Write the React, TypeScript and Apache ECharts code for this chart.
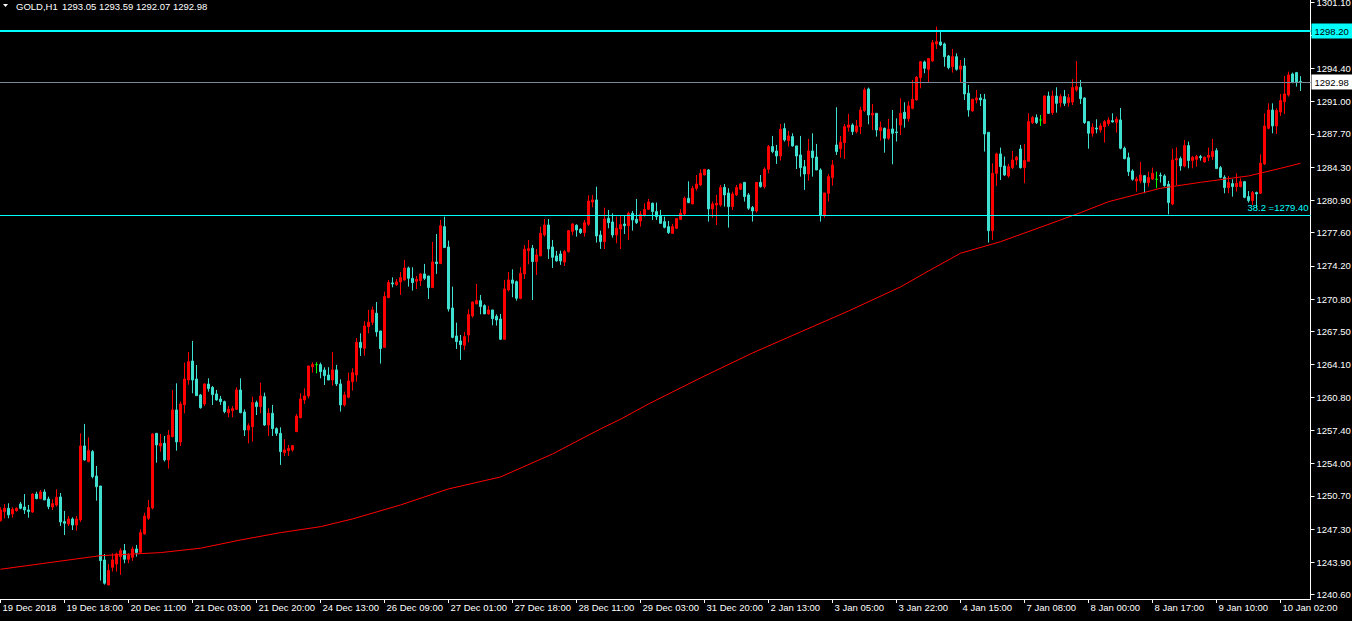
import React, { useEffect, useRef } from "react";
import * as echarts from "echarts";

const FONT = '"Liberation Sans", Arial, sans-serif';

const opens = [
  1248.17, 1249.09, 1249.43, 1248.85, 1249.19, 1249.87, 1249.56, 1249.26, 1249.05, 1250.89,
  1250.42, 1251.10, 1250.38, 1249.56, 1249.77, 1250.59, 1248.07, 1247.83, 1248.34, 1247.72,
  1248.24, 1255.80, 1254.20, 1255.22, 1252.73, 1251.71, 1244.15, 1241.59, 1243.40, 1243.74,
  1244.49, 1245.10, 1244.22, 1244.42, 1245.27, 1244.93, 1246.81, 1248.41, 1249.46, 1257.09,
  1255.80, 1256.07, 1254.37, 1256.75, 1259.48, 1256.21, 1260.02, 1262.54, 1264.48, 1262.64,
  1261.01, 1260.09, 1262.13, 1261.79, 1261.11, 1260.60, 1260.33, 1259.20, 1259.41, 1259.54,
  1261.52, 1259.27, 1257.43, 1257.77, 1260.23, 1259.82, 1260.84, 1257.94, 1259.14, 1257.57,
  1257.09, 1255.12, 1255.32, 1255.39, 1257.26, 1258.69, 1260.50, 1260.91, 1263.90, 1264.11,
  1264.11, 1263.56, 1263.05, 1262.54, 1263.57, 1262.14, 1259.99, 1260.77, 1262.37, 1263.05,
  1266.39, 1265.78, 1267.99, 1268.44, 1269.36, 1267.55, 1265.88, 1270.96, 1272.46, 1272.29,
  1272.56, 1272.76, 1273.99, 1272.93, 1272.63, 1272.70, 1273.38, 1273.17, 1271.98, 1274.60,
  1274.43, 1278.21, 1276.13, 1269.90, 1267.04, 1266.53, 1266.09, 1267.14, 1269.08, 1270.31,
  1270.65, 1270.14, 1269.29, 1269.70, 1269.05, 1268.78, 1266.70, 1271.74, 1272.76, 1272.59,
  1270.89, 1273.38, 1275.76, 1276.00, 1274.64, 1275.22, 1277.36, 1278.38, 1276.13, 1275.22,
  1275.42, 1274.60, 1275.66, 1277.73, 1278.35, 1277.94, 1277.60, 1278.45, 1280.73, 1280.94,
  1277.36, 1276.68, 1279.06, 1278.69, 1277.36, 1277.97, 1278.48, 1278.31, 1279.57, 1278.96,
  1278.79, 1279.37, 1279.98, 1280.60, 1279.75, 1279.30, 1278.72, 1278.21, 1277.53, 1278.04,
  1278.96, 1279.51, 1281.11, 1280.53, 1282.13, 1282.47, 1283.49, 1284.00, 1280.02, 1280.43,
  1280.43, 1282.23, 1281.65, 1280.26, 1281.45, 1282.03, 1282.74, 1281.45, 1280.16, 1279.81,
  1282.74, 1282.30, 1284.07, 1286.39, 1285.94, 1285.43, 1288.23, 1287.00, 1287.41, 1286.46,
  1285.54, 1284.34, 1283.59, 1285.94, 1285.33, 1284.00, 1279.40, 1281.62, 1283.22, 1286.56,
  1286.18, 1286.80, 1288.36, 1288.60, 1287.92, 1288.43, 1290.07, 1292.28, 1289.62, 1289.79,
  1288.02, 1288.26, 1287.24, 1288.19, 1287.89, 1288.60, 1289.90, 1289.25, 1290.30, 1291.16,
  1293.44, 1295.04, 1294.29, 1295.14, 1296.88, 1297.08, 1296.88, 1295.65, 1294.56, 1295.58,
  1294.29, 1294.63, 1291.84, 1290.03, 1291.16, 1291.36, 1291.22, 1287.85, 1277.80, 1283.66,
  1285.64, 1284.41, 1283.39, 1284.24, 1285.02, 1286.15, 1284.24, 1284.89, 1288.84, 1289.35,
  1289.11, 1288.77, 1291.56, 1289.86, 1291.56, 1290.88, 1291.50, 1290.88, 1290.95, 1292.18,
  1292.45, 1291.36, 1288.94, 1287.75, 1288.29, 1288.09, 1288.43, 1288.74, 1289.04, 1288.87,
  1289.11, 1286.22, 1285.26, 1283.90, 1282.88, 1282.88, 1283.42, 1282.71, 1283.08, 1283.05,
  1283.46, 1283.39, 1282.54, 1280.53, 1285.02, 1285.16, 1284.41, 1286.49, 1284.96, 1285.09,
  1285.37, 1284.82, 1285.30, 1285.37, 1285.98, 1284.24, 1283.25, 1282.20, 1282.61, 1282.30,
  1282.30, 1282.81, 1281.28, 1280.87, 1281.69, 1281.62, 1284.62, 1288.26, 1290.13, 1288.50,
  1289.93, 1290.98, 1291.67, 1293.81, 1293.95, 1293.05,
];

const highs = [
  1249.53, 1249.87, 1249.94, 1249.53, 1249.53, 1250.08, 1250.89, 1249.77, 1250.96, 1251.13,
  1251.30, 1251.37, 1250.62, 1250.35, 1251.37, 1250.99, 1249.16, 1248.64, 1248.51, 1248.64,
  1257.09, 1258.05, 1256.68, 1255.39, 1253.75, 1251.71, 1244.76, 1243.74, 1244.83, 1244.90,
  1245.34, 1245.78, 1244.83, 1245.51, 1245.68, 1247.28, 1248.98, 1250.28, 1257.09, 1257.09,
  1257.02, 1256.82, 1257.43, 1261.52, 1262.20, 1260.33, 1264.31, 1265.40, 1266.53, 1264.07,
  1261.11, 1262.20, 1262.71, 1261.93, 1261.52, 1260.91, 1260.43, 1259.88, 1259.88, 1261.79,
  1262.71, 1259.54, 1258.11, 1260.84, 1260.43, 1262.27, 1261.25, 1259.65, 1259.99, 1257.70,
  1257.70, 1256.48, 1255.90, 1255.90, 1259.07, 1261.18, 1261.69, 1263.97, 1264.35, 1264.35,
  1264.31, 1263.84, 1263.84, 1265.41, 1264.08, 1262.61, 1261.35, 1263.29, 1263.74, 1266.84,
  1267.31, 1268.54, 1269.70, 1270.04, 1270.51, 1267.55, 1271.57, 1272.76, 1273.03, 1272.86,
  1273.58, 1274.81, 1274.13, 1274.06, 1273.17, 1273.44, 1274.40, 1273.17, 1276.64, 1277.46,
  1278.89, 1279.23, 1276.78, 1272.08, 1268.40, 1267.14, 1267.45, 1269.77, 1270.55, 1272.35,
  1271.23, 1270.28, 1270.11, 1269.70, 1269.25, 1269.29, 1272.76, 1273.58, 1273.85, 1272.70,
  1274.06, 1276.34, 1276.85, 1276.34, 1275.93, 1278.21, 1278.99, 1278.99, 1276.85, 1275.73,
  1275.76, 1275.83, 1277.87, 1278.55, 1278.45, 1278.04, 1278.89, 1281.41, 1281.45, 1282.30,
  1277.80, 1280.15, 1279.91, 1279.57, 1279.23, 1279.34, 1279.34, 1279.74, 1279.81, 1281.04,
  1279.81, 1280.60, 1281.04, 1280.67, 1280.67, 1279.92, 1279.23, 1278.79, 1278.49, 1279.10,
  1279.98, 1281.28, 1282.84, 1282.37, 1283.49, 1284.07, 1284.07, 1284.10, 1280.77, 1281.45,
  1282.47, 1282.57, 1282.13, 1281.79, 1282.47, 1282.64, 1282.74, 1281.65, 1280.32, 1282.74,
  1283.49, 1284.27, 1286.56, 1287.48, 1286.56, 1288.70, 1288.77, 1287.99, 1287.75, 1286.46,
  1287.48, 1285.02, 1287.17, 1287.75, 1286.66, 1284.17, 1281.65, 1283.59, 1285.02, 1290.41,
  1287.48, 1288.70, 1289.73, 1288.77, 1289.11, 1290.47, 1292.42, 1292.42, 1290.75, 1289.79,
  1288.94, 1288.33, 1289.21, 1290.13, 1289.28, 1291.33, 1290.92, 1291.02, 1293.20, 1293.61,
  1295.14, 1295.17, 1295.45, 1297.29, 1298.65, 1298.14, 1297.01, 1295.75, 1296.37, 1295.92,
  1295.24, 1295.45, 1292.69, 1291.29, 1292.18, 1291.77, 1291.77, 1287.85, 1284.68, 1285.77,
  1286.29, 1285.37, 1284.62, 1285.94, 1285.43, 1286.56, 1286.66, 1289.79, 1289.52, 1289.69,
  1289.62, 1291.63, 1292.01, 1292.11, 1292.45, 1291.77, 1292.18, 1291.77, 1293.27, 1295.14,
  1293.20, 1291.43, 1288.94, 1288.77, 1289.18, 1288.77, 1289.11, 1289.38, 1289.79, 1289.45,
  1290.34, 1286.39, 1285.77, 1284.07, 1283.32, 1284.82, 1283.49, 1283.83, 1284.24, 1283.83,
  1283.73, 1283.56, 1282.88, 1286.18, 1286.32, 1285.37, 1287.07, 1286.90, 1285.43, 1285.54,
  1285.54, 1285.37, 1286.29, 1287.17, 1286.22, 1284.41, 1283.46, 1283.39, 1283.05, 1283.66,
  1283.15, 1282.88, 1281.85, 1281.85, 1281.79, 1285.60, 1289.79, 1290.81, 1290.81, 1290.30,
  1291.77, 1293.61, 1294.05, 1293.95, 1294.02, 1293.59,
];

const lows = [
  1248.07, 1248.41, 1248.41, 1248.47, 1249.09, 1249.33, 1248.85, 1248.47, 1248.98, 1250.35,
  1250.35, 1250.28, 1249.33, 1249.26, 1249.60, 1247.62, 1246.70, 1247.62, 1247.21, 1247.15,
  1248.03, 1254.30, 1254.13, 1252.49, 1250.21, 1242.04, 1241.63, 1241.59, 1242.96, 1242.96,
  1242.62, 1243.81, 1243.81, 1244.05, 1244.49, 1244.90, 1246.74, 1248.24, 1249.33, 1254.09,
  1255.22, 1254.20, 1253.48, 1256.68, 1255.32, 1255.80, 1259.14, 1262.06, 1261.18, 1260.91,
  1259.61, 1259.88, 1261.35, 1259.99, 1260.43, 1259.99, 1259.14, 1258.73, 1258.73, 1259.48,
  1259.14, 1256.82, 1256.07, 1256.24, 1258.96, 1259.14, 1257.84, 1256.82, 1256.82, 1256.82,
  1253.86, 1254.78, 1254.78, 1255.22, 1257.23, 1258.62, 1260.09, 1260.67, 1263.29, 1263.22,
  1262.71, 1262.03, 1262.54, 1261.97, 1261.93, 1259.31, 1259.82, 1260.67, 1261.45, 1262.37,
  1265.00, 1265.03, 1267.31, 1268.16, 1266.97, 1264.21, 1265.88, 1270.89, 1272.01, 1272.15,
  1271.23, 1272.70, 1272.08, 1271.67, 1271.84, 1272.15, 1272.76, 1270.82, 1271.98, 1273.38,
  1274.43, 1276.07, 1269.53, 1266.80, 1265.71, 1264.59, 1265.61, 1266.39, 1268.91, 1270.31,
  1269.25, 1269.29, 1269.22, 1268.13, 1268.10, 1266.63, 1266.70, 1271.57, 1270.99, 1270.65,
  1270.79, 1272.86, 1274.36, 1270.72, 1273.27, 1275.22, 1277.19, 1274.91, 1273.99, 1274.64,
  1274.30, 1274.19, 1275.55, 1277.33, 1277.19, 1277.46, 1277.19, 1278.28, 1280.19, 1276.58,
  1275.93, 1275.93, 1278.04, 1277.09, 1276.51, 1275.93, 1277.46, 1276.85, 1277.80, 1278.48,
  1278.21, 1279.23, 1279.91, 1278.89, 1278.89, 1278.49, 1278.04, 1277.46, 1277.46, 1277.97,
  1278.89, 1279.40, 1280.60, 1280.53, 1281.89, 1282.37, 1283.46, 1278.72, 1279.13, 1278.38,
  1280.26, 1280.26, 1278.11, 1279.92, 1281.35, 1281.96, 1280.77, 1279.92, 1278.72, 1279.64,
  1282.20, 1282.10, 1283.66, 1285.71, 1284.62, 1284.96, 1286.90, 1286.39, 1286.39, 1284.10,
  1283.32, 1281.96, 1282.91, 1283.32, 1284.00, 1278.72, 1279.13, 1280.77, 1282.40, 1285.54,
  1285.26, 1285.13, 1287.92, 1287.58, 1287.75, 1287.68, 1289.93, 1288.67, 1288.09, 1287.41,
  1287.00, 1285.77, 1287.07, 1284.58, 1286.90, 1287.58, 1288.33, 1288.94, 1290.20, 1291.09,
  1292.35, 1293.88, 1292.93, 1295.07, 1296.37, 1296.67, 1294.56, 1294.29, 1293.95, 1294.15,
  1292.99, 1291.16, 1289.45, 1289.96, 1290.81, 1290.54, 1285.88, 1276.58, 1276.85, 1282.37,
  1282.98, 1283.39, 1283.22, 1284.10, 1284.51, 1284.14, 1282.64, 1284.82, 1288.70, 1288.70,
  1288.50, 1288.70, 1289.73, 1289.62, 1289.86, 1290.41, 1290.54, 1290.47, 1290.64, 1292.01,
  1290.75, 1288.70, 1286.18, 1287.41, 1287.75, 1287.82, 1286.80, 1288.50, 1288.84, 1287.82,
  1286.11, 1285.09, 1283.39, 1282.91, 1281.79, 1282.64, 1281.62, 1282.30, 1282.98, 1282.13,
  1282.71, 1282.30, 1279.47, 1280.39, 1282.47, 1283.93, 1284.27, 1284.17, 1284.17, 1284.34,
  1284.96, 1284.75, 1284.92, 1285.02, 1284.14, 1283.15, 1281.62, 1281.62, 1281.28, 1281.79,
  1282.23, 1281.11, 1280.67, 1280.43, 1280.09, 1281.55, 1284.51, 1288.16, 1287.75, 1287.68,
  1289.52, 1289.73, 1291.50, 1292.86, 1292.52, 1292.07,
];

const closes = [
  1249.26, 1249.43, 1248.75, 1249.33, 1249.43, 1249.43, 1249.26, 1249.09, 1250.89, 1250.42,
  1251.10, 1250.28, 1249.60, 1249.90, 1250.55, 1248.03, 1247.90, 1248.34, 1247.72, 1248.34,
  1255.80, 1254.37, 1255.32, 1252.66, 1251.64, 1244.08, 1241.77, 1243.06, 1244.15, 1244.76,
  1245.10, 1244.22, 1244.63, 1245.27, 1244.90, 1246.94, 1248.64, 1249.50, 1257.02, 1255.90,
  1256.07, 1254.37, 1256.89, 1259.48, 1256.21, 1260.09, 1262.64, 1264.41, 1262.54, 1260.94,
  1259.71, 1262.13, 1261.66, 1261.04, 1260.50, 1260.33, 1259.31, 1259.54, 1259.61, 1261.52,
  1259.20, 1257.43, 1257.87, 1260.23, 1259.82, 1260.91, 1257.94, 1259.14, 1257.57, 1257.09,
  1255.22, 1255.39, 1255.56, 1255.83, 1258.86, 1260.60, 1260.91, 1263.97, 1264.11, 1264.11,
  1263.39, 1262.98, 1262.54, 1263.57, 1262.14, 1259.99, 1261.01, 1262.44, 1263.29, 1266.39,
  1265.85, 1268.06, 1268.44, 1269.70, 1267.45, 1265.75, 1271.06, 1272.49, 1272.35, 1272.56,
  1273.00, 1273.99, 1272.93, 1272.49, 1272.83, 1273.38, 1272.93, 1271.98, 1274.60, 1274.43,
  1278.31, 1276.07, 1269.80, 1266.90, 1266.46, 1266.15, 1266.97, 1269.22, 1270.51, 1270.65,
  1270.04, 1269.29, 1269.70, 1268.81, 1268.67, 1266.70, 1271.84, 1272.76, 1272.42, 1270.89,
  1273.44, 1275.90, 1275.96, 1274.64, 1275.32, 1277.53, 1278.38, 1275.93, 1275.08, 1274.70,
  1274.70, 1275.66, 1277.80, 1278.48, 1277.87, 1277.60, 1278.62, 1280.83, 1280.94, 1277.26,
  1276.68, 1278.99, 1278.62, 1277.36, 1278.04, 1278.42, 1278.31, 1279.57, 1278.89, 1278.62,
  1279.47, 1279.98, 1280.73, 1279.75, 1279.23, 1278.55, 1278.14, 1277.60, 1278.21, 1279.03,
  1279.58, 1281.11, 1280.67, 1282.13, 1282.57, 1283.66, 1284.07, 1280.02, 1280.53, 1280.60,
  1282.20, 1281.45, 1280.26, 1281.55, 1282.20, 1282.57, 1281.28, 1280.09, 1279.81, 1282.74,
  1282.30, 1284.10, 1286.39, 1285.88, 1285.43, 1288.16, 1287.07, 1287.48, 1286.46, 1285.43,
  1284.24, 1283.59, 1285.94, 1285.26, 1284.00, 1279.40, 1281.65, 1283.32, 1284.51, 1285.88,
  1286.83, 1288.43, 1288.60, 1287.92, 1288.50, 1290.13, 1292.18, 1289.62, 1289.79, 1288.09,
  1288.33, 1287.24, 1288.16, 1287.75, 1287.82, 1289.79, 1289.25, 1290.54, 1291.22, 1293.47,
  1295.07, 1294.39, 1295.38, 1297.01, 1297.12, 1296.78, 1295.58, 1294.46, 1295.58, 1294.29,
  1294.63, 1291.77, 1290.13, 1291.22, 1291.36, 1291.16, 1287.68, 1277.80, 1283.66, 1285.64,
  1284.34, 1283.49, 1284.34, 1285.02, 1285.30, 1284.24, 1284.96, 1288.94, 1289.35, 1288.84,
  1289.11, 1291.56, 1289.79, 1291.56, 1290.81, 1291.50, 1290.81, 1291.39, 1292.42, 1292.52,
  1291.29, 1288.84, 1287.75, 1288.36, 1288.19, 1288.50, 1288.94, 1289.11, 1288.91, 1289.18,
  1286.22, 1285.16, 1283.83, 1283.05, 1283.08, 1283.49, 1282.71, 1283.22, 1283.66, 1283.05,
  1283.39, 1282.40, 1280.67, 1285.02, 1285.16, 1284.41, 1286.49, 1284.96, 1285.30, 1285.37,
  1285.26, 1285.30, 1285.50, 1285.88, 1284.14, 1283.25, 1282.20, 1282.71, 1282.30, 1282.64,
  1282.81, 1281.21, 1280.87, 1281.69, 1281.55, 1284.68, 1288.50, 1290.13, 1288.50, 1290.07,
  1291.09, 1291.77, 1293.71, 1292.93, 1292.93, 1292.98,
];

// Moving average read at sampled bars (bar index -> value)
const maIndex = [0, 25, 40, 50, 60, 70, 80, 88, 100, 112, 125, 138, 150, 155, 162, 175, 188, 200, 212, 225, 232, 240, 250, 265, 270, 277, 290, 300, 312, 320, 325];
const maValues = [1243.2, 1244.59, 1244.9, 1245.35, 1246.19, 1246.94, 1247.55, 1248.34, 1249.77, 1251.41, 1252.63, 1254.98, 1257.54, 1258.53, 1260.09, 1262.75, 1265.3, 1267.45, 1269.59, 1272.05, 1273.68, 1275.49, 1276.67, 1278.89, 1279.64, 1280.76, 1282.13, 1282.74, 1283.39, 1284.17, 1284.68];

const xTickLabels = [
  "19 Dec 2018", "19 Dec 18:00", "20 Dec 11:00", "21 Dec 03:00", "21 Dec 20:00", "24 Dec 13:00",
  "26 Dec 09:00", "27 Dec 01:00", "27 Dec 18:00", "28 Dec 11:00", "29 Dec 03:00", "31 Dec 20:00",
  "2 Jan 13:00", "3 Jan 05:00", "3 Jan 22:00", "4 Jan 15:00", "7 Jan 08:00", "8 Jan 00:00",
  "8 Jan 17:00", "9 Jan 10:00", "10 Jan 02:00",
];
const BARS_PER_LABEL = 16;

const yTickValues = [1240.6, 1243.9, 1247.3, 1250.7, 1254.0, 1257.4, 1260.8, 1264.1, 1267.5, 1270.8, 1274.2, 1277.6, 1280.9, 1284.3, 1287.7, 1291.0, 1294.4, 1297.8, 1301.1];
const Y_MIN = 1240.16;
const Y_MAX = 1301.37;

const headerSymbol = "GOLD,H1";
const headerValues = [1293.05, 1293.59, 1292.07, 1292.98];

const levelResistance = 1298.2;
const levelBid = 1292.98;
const fibRatio = 38.2;
const levelFib = 1279.4;

const EXTRA_SLOTS = 2;

export default function App() {
  const ref = useRef<HTMLDivElement>(null);

  useEffect(() => {
    if (!ref.current) return;
    const chart = echarts.init(ref.current, null, { renderer: "svg" });
    const total = opens.length + EXTRA_SLOTS;
    const categories = Array.from({ length: total }, (_, i) => String(i));
    const candleData = opens.map((o, i) => [o, closes[i], lows[i], highs[i]]);
    const maData: (number | null)[] = new Array(total).fill(null);
    maIndex.forEach((idx, k) => {
      maData[idx] = maValues[k];
    });

    const option: any = {
      animation: false,
      backgroundColor: "#000000",
      textStyle: { fontFamily: FONT },
      grid: {
        left: -1.5,
        right: 41.5,
        top: 0,
        bottom: 22,
        containLabel: false,
        outerBoundsMode: "none",
      },
      xAxis: {
        type: "category",
        data: categories,
        boundaryGap: true,
        axisLine: { show: true, lineStyle: { color: "#FFFFFF", width: 1 } },
        axisTick: {
          show: true,
          interval: BARS_PER_LABEL - 1,
          alignWithLabel: true,
          length: 4,
          lineStyle: { color: "#FFFFFF" },
        },
        axisLabel: {
          show: true,
          interval: BARS_PER_LABEL - 1,
          color: "#FFFFFF",
          fontSize: 9.5,
          fontFamily: FONT,
          align: "left",
          margin: 3,
          padding: [0, 0, 0, 2],
          formatter: (_v: string, idx: number) =>
            idx % BARS_PER_LABEL === 0 ? xTickLabels[idx / BARS_PER_LABEL] ?? "" : "",
        },
        splitLine: { show: false },
      },
      yAxis: {
        type: "value",
        position: "right",
        min: Y_MIN,
        max: Y_MAX,
        axisLine: { show: true, lineStyle: { color: "#FFFFFF", width: 1 } },
        axisTick: {
          show: true,
          length: 4,
          customValues: yTickValues,
          lineStyle: { color: "#FFFFFF" },
        },
        axisLabel: {
          show: true,
          color: "#FFFFFF",
          fontSize: 9.5,
          fontFamily: FONT,
          margin: 6,
          customValues: yTickValues,
          formatter: (v: number) => v.toFixed(2),
        },
        splitLine: { show: false },
      },
      graphic: [
        {
          type: "polygon",
          shape: { points: [[3, 4], [8, 4], [5.5, 7]] },
          style: { fill: "#FFFFFF" },
        },
        {
          type: "text",
          x: 16,
          y: 6,
          style: {
            text: headerSymbol,
            fill: "#FFFFFF",
            fontSize: 9.5,
            fontFamily: FONT,
            verticalAlign: "middle",
          },
        },
        {
          type: "text",
          x: 62,
          y: 6,
          style: {
            text: headerValues.map((v) => v.toFixed(2)).join(" "),
            fill: "#FFFFFF",
            fontSize: 9.5,
            fontFamily: FONT,
            verticalAlign: "middle",
          },
        },
      ],
      series: [
        {
          type: "candlestick",
          data: candleData,
          barWidth: 2,
          itemStyle: {
            color: "#FF0000",
            color0: "#40E0D0",
            borderColor: "#FF0000",
            borderColor0: "#40E0D0",
            borderColorDoji: "#00FF00",
            borderWidth: 1,
          },
          markLine: {
            silent: true,
            symbol: ["none", "none"],
            animation: false,
            data: [
              {
                yAxis: levelResistance,
                lineStyle: { color: "#00FFFF", width: 2, type: "solid" },
                label: {
                  show: true,
                  position: "end",
                  distance: 1,
                  formatter: levelResistance.toFixed(2),
                  color: "#000000",
                  backgroundColor: "#00FFFF",
                  padding: [3, 6, 2, 3],
                  fontSize: 9.5,
                  fontFamily: FONT,
                },
              },
              {
                yAxis: levelBid,
                lineStyle: { color: "#778899", width: 1, type: "solid" },
                label: {
                  show: true,
                  position: "end",
                  distance: 1,
                  formatter: levelBid.toFixed(2),
                  color: "#000000",
                  backgroundColor: "#FFFFFF",
                  padding: [3, 6, 2, 3],
                  fontSize: 9.5,
                  fontFamily: FONT,
                },
              },
              {
                yAxis: levelFib,
                lineStyle: { color: "#00FFFF", width: 1, type: "solid" },
                label: {
                  show: true,
                  position: "insideEndTop",
                  distance: 2,
                  formatter: `${fibRatio.toFixed(1)} =${levelFib.toFixed(2)}`,
                  color: "#00FFFF",
                  fontSize: 9.5,
                  fontFamily: FONT,
                },
              },
            ],
          },
        },
        {
          type: "line",
          data: maData,
          connectNulls: true,
          symbol: "none",
          showSymbol: false,
          lineStyle: { color: "#FF0000", width: 1 },
          z: 3,
          silent: true,
        },
      ],
    };
    chart.setOption(option);
    return () => chart.dispose();
  }, []);

  return (
    <div
      ref={ref}
      style={{ position: "fixed", left: 0, top: 0, width: 1352, height: 621, background: "#000000" }}
    />
  );
}
